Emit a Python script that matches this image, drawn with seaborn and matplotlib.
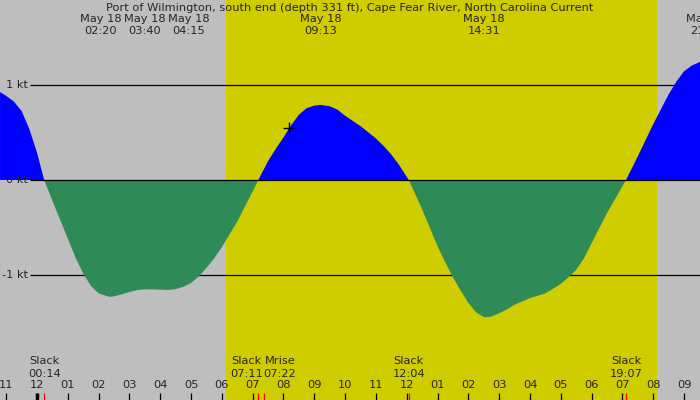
import numpy as np
import pandas as pd
import matplotlib
matplotlib.use("Agg")
import matplotlib.pyplot as plt
import seaborn as sns

# hours after midnight (May 18) and current speed in knots
hours = [-1.2, -1.0, -0.75, -0.5, -0.25, 0.0, 0.233, 0.5, 0.75, 1.0, 1.25, 1.5,
         1.75, 2.0, 2.333, 2.5, 2.75, 3.0, 3.25, 3.5, 3.667, 4.0, 4.25, 4.5,
         4.75, 5.0, 5.25, 5.5, 5.75, 6.0, 6.5, 7.0, 7.183, 7.5, 7.75, 8.0, 8.25,
         8.5, 8.75, 9.0, 9.217, 9.5, 9.75, 10.0, 10.5, 11.0, 11.25, 11.5, 11.75,
         12.067, 12.5, 13.0, 13.25, 13.5, 13.75, 14.0, 14.25, 14.517, 14.75,
         15.0, 15.25, 15.5, 16.0, 16.5, 17.0, 17.25, 17.5, 17.75, 18.0, 18.5,
         19.117, 19.5, 20.0, 20.5, 20.75, 21.0, 21.25, 21.52]
knots = [0.93, 0.89, 0.83, 0.73, 0.54, 0.29, 0.0, -0.22, -0.42, -0.62, -0.82,
         -0.99, -1.12, -1.20, -1.235, -1.232, -1.21, -1.185, -1.165, -1.158,
         -1.157, -1.16, -1.164, -1.155, -1.13, -1.09, -1.02, -0.93, -0.83, -0.71,
         -0.44, -0.12, 0.0, 0.20, 0.33, 0.45, 0.58, 0.69, 0.76, 0.787, 0.794,
         0.78, 0.745, 0.68, 0.57, 0.44, 0.36, 0.27, 0.16, 0.0, -0.31, -0.70,
         -0.87, -1.03, -1.17, -1.30, -1.40, -1.453, -1.445, -1.41, -1.37, -1.32,
         -1.25, -1.20, -1.10, -1.03, -0.95, -0.83, -0.67, -0.35, 0.0, 0.25, 0.59,
         0.905, 1.04, 1.15, 1.21, 1.25]

title = "Port of Wilmington, south end (depth 331 ft), Cape Fear River, North Carolina Current"

sunrise, sunset = 6.13, 20.12

peak_hours = [2.333, 3.667, 4.25, 9.217, 14.517, 21.73]
peak_dates = ["May 18"] * 6
peak_times = ["02:20", "03:40", "04:15", "09:13", "14:31", "21:44"]

event_hours = [0.233, 7.183, 7.367, 12.067, 19.117]
event_names = ["Slack", "Slack", "Mrise", "Slack", "Slack"]
event_times = ["00:14", "07:11", "07:22", "12:04", "19:07"]

hour_ticks = list(range(-1, 22))
hour_labels = ["11", "12", "01", "02", "03", "04", "05", "06", "07", "08", "09",
               "10", "11", "12", "01", "02", "03", "04", "05", "06", "07", "08",
               "09"]

kt_levels = [1, 0, -1]
kt_labels = ["1 kt", "0 kt", "-1 kt"]

now_hour, now_knots = 8.18, 0.55

# pixel geometry of the original picture
PX_H = 30.81   # pixels per hour
PX_KT = 94.5   # pixels per knot
W, H = 700, 400
FS = 8.2

df = pd.DataFrame({"hour": hours, "knots": knots})

sns.set_style("white")
plt.rcParams["font.family"] = ["DejaVu Sans"]

fig = plt.figure(figsize=(7, 4), dpi=100)
fig.patch.set_facecolor("#bebebe")
ax = fig.add_axes([0, 0, 1, 1])
ax.set_facecolor("#bebebe")
for s in ax.spines.values():
    s.set_visible(False)
ax.set_xticks([])
ax.set_yticks([])

x0 = -37 / PX_H
ax.set_xlim(x0, x0 + W / PX_H)
ax.set_ylim(-(H - 180) / PX_KT, 180 / PX_KT)

ax.axvspan(sunrise, sunset, color="#cfcc00", lw=0, zorder=0)

# reference lines
ax.hlines([1, -1], x0 + 30 / PX_H, x0 + W / PX_H, color="black", lw=0.9, zorder=1)
ax.hlines([0], x0 + 30 / PX_H, x0 + W / PX_H, color="black", lw=0.9, zorder=3)
for lv, lb in zip(kt_levels, kt_labels):
    ax.text(x0 + 28 / PX_H, lv, lb, ha="right", va="center", fontsize=FS, zorder=6)

h = df["hour"].to_numpy()
k = df["knots"].to_numpy()
ax.fill_between(h, k, 0, where=k >= 0, interpolate=True, color="#0000ff", lw=0, zorder=2)
ax.fill_between(h, k, 0, where=k <= 0, interpolate=True, color="#2e8b57", lw=0, zorder=2)

sns.scatterplot(x=[now_hour], y=[now_knots], marker="+", s=70, color="black",
                linewidth=1, ax=ax, zorder=4)

xt = ax.get_xaxis_transform()
def yfrac(py):
    return 1 - py / H

fig.text(0.5, yfrac(8), title, ha="center", va="center", fontsize=FS)

peak_nudge = [-8, -5, 21, 0, 0, 0]
for ph, d, t, n in zip(peak_hours, peak_dates, peak_times, peak_nudge):
    ax.text(ph + n / PX_H, yfrac(19), d, transform=xt, ha="center", va="center", fontsize=FS)
    ax.text(ph + n / PX_H, yfrac(31), t, transform=xt, ha="center", va="center", fontsize=FS)

event_nudge = [0, -12, 16, 0, 0]
for eh, nm, t, n in zip(event_hours, event_names, event_times, event_nudge):
    ax.text(eh + n / PX_H, yfrac(361), nm, transform=xt, ha="center", va="center", fontsize=FS)
    ax.text(eh + n / PX_H, yfrac(374), t, transform=xt, ha="center", va="center", fontsize=FS)

for th, tl in zip(hour_ticks, hour_labels):
    ax.text(th, yfrac(385), tl, transform=xt, ha="center", va="center", fontsize=FS)

ax.vlines(hour_ticks, 0, yfrac(393), transform=xt, color="black", lw=0.9, zorder=5)
ax.vlines([0], 0, yfrac(393), transform=xt, color="black", lw=2.5, zorder=5)
ax.vlines(event_hours, 0, yfrac(393), transform=xt, color="red", lw=0.9, zorder=5)

fig.savefig("out.png", dpi=100, facecolor=fig.get_facecolor())
